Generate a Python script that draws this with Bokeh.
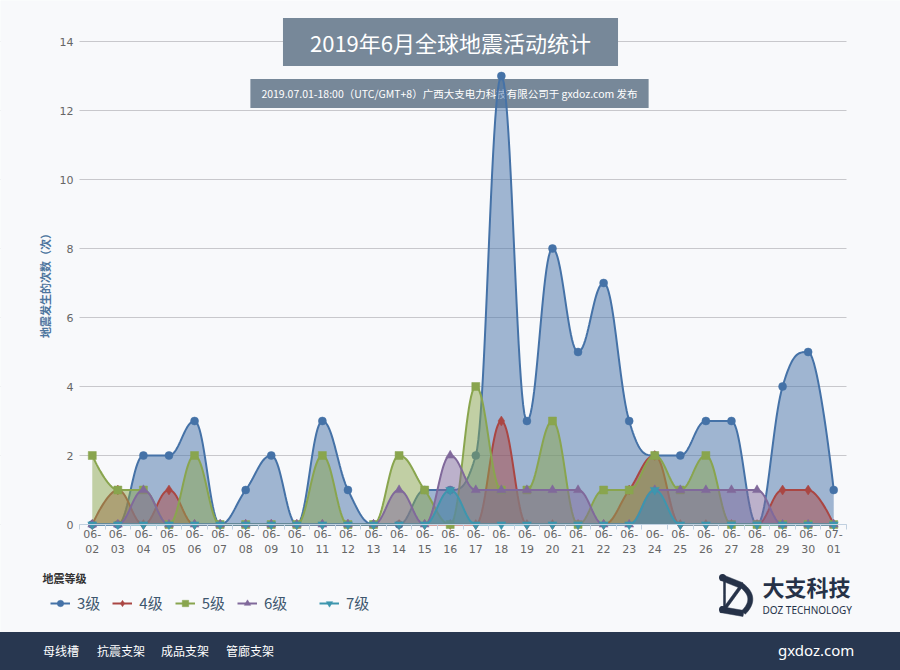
import numpy as np
from bokeh.plotting import figure
from bokeh.models import (Range1d, FixedTicker, Label, Legend, LegendItem, Div, BoxAnnotation)
from bokeh.layouts import column
from bokeh.embed import file_html
from bokeh.resources import INLINE

# ---------------- data ----------------
dates = ["06-02", "06-03", "06-04", "06-05", "06-06", "06-07", "06-08", "06-09", "06-10",
         "06-11", "06-12", "06-13", "06-14", "06-15", "06-16", "06-17", "06-18", "06-19",
         "06-20", "06-21", "06-22", "06-23", "06-24", "06-25", "06-26", "06-27", "06-28",
         "06-29", "06-30", "07-01"]
levels = ["3级", "4级", "5级", "6级", "7级"]
m3 = [0, 0, 2, 2, 3, 0, 1, 2, 0, 3, 1, 0, 0, 1, 1, 2, 13, 3, 8, 5, 7, 3, 2, 2, 3, 3, 0, 4, 5, 1]
m4 = [0, 1, 0, 1, 0, 0, 0, 0, 0, 0, 0, 0, 0, 0, 0, 0, 3, 0, 0, 0, 0, 1, 2, 0, 0, 0, 0, 1, 1, 0]
m5 = [2, 1, 1, 0, 2, 0, 0, 0, 0, 2, 0, 0, 2, 1, 0, 4, 1, 1, 3, 0, 1, 1, 2, 1, 2, 0, 0, 0, 0, 0]
m6 = [0, 0, 1, 0, 0, 0, 0, 0, 0, 0, 0, 0, 1, 0, 2, 1, 1, 1, 1, 1, 0, 0, 1, 1, 1, 1, 1, 0, 0, 0]
m7 = [0, 0, 0, 0, 0, 0, 0, 0, 0, 0, 0, 0, 0, 0, 1, 0, 0, 0, 0, 0, 0, 0, 1, 0, 0, 0, 0, 0, 0, 0]
series = [m3, m4, m5, m6, m7]
y_ticks = [0, 2, 4, 6, 8, 10, 12, 14]

title_text = "2019年6月全球地震活动统计"
subtitle_text = "2019.07.01-18:00（UTC/GMT+8）广西大支电力科技有限公司于 gxdoz.com 发布"
y_title = "地震发生的次数（次）"
legend_title = "地震等级"
footer_links = ["母线槽", "抗震支架", "成品支架", "管廊支架"]
footer_site = "gxdoz.com"

colors = ["#4572A7", "#AA4643", "#89A54E", "#80699B", "#3D96AE"]
markers = ["circle", "diamond", "square", "triangle", "inverted_triangle"]
msizes = [8, 10, 8, 9, 9]

BG = "#f8f9fb"
CJK = "Noto Sans CJK SC"
NAVY = "#263248"


def hc_spline(x, y, smoothing=1.5, steps=24):
    """Highcharts-style spline through the data points (bezier segments)."""
    x = np.asarray(x, float)
    y = np.asarray(y, float)
    n = len(x)
    lc = np.column_stack([x, y])
    rc = lc.copy()
    d = smoothing + 1
    for i in range(1, n - 1):
        px, py = x[i], y[i]
        lx, ly = x[i - 1], y[i - 1]
        nx, ny = x[i + 1], y[i + 1]
        lcx = (smoothing * px + lx) / d
        lcy = (smoothing * py + ly) / d
        rcx = (smoothing * px + nx) / d
        rcy = (smoothing * py + ny) / d
        if rcx != lcx:
            corr = (rcy - lcy) * (rcx - px) / (rcx - lcx) + py - rcy
            lcy += corr
            rcy += corr
        if lcy > max(ly, py):
            lcy = max(ly, py); rcy = 2 * py - lcy
        elif lcy < min(ly, py):
            lcy = min(ly, py); rcy = 2 * py - lcy
        if rcy > max(ny, py):
            rcy = max(ny, py); lcy = 2 * py - rcy
        elif rcy < min(ny, py):
            rcy = min(ny, py); lcy = 2 * py - rcy
        lc[i] = (lcx, lcy)
        rc[i] = (rcx, rcy)
    t = np.linspace(0, 1, steps)[1:]
    X = [x[0]]
    Y = [y[0]]
    for i in range(1, n):
        p0 = np.array([x[i - 1], y[i - 1]])
        c1 = rc[i - 1]
        c2 = lc[i]
        p3 = np.array([x[i], y[i]])
        tt = t[:, None]
        b = ((1 - tt) ** 3) * p0 + 3 * ((1 - tt) ** 2) * tt * c1 + 3 * (1 - tt) * tt ** 2 * c2 + tt ** 3 * p3
        X.extend(b[:, 0]); Y.extend(b[:, 1])
    return np.array(X), np.array(Y)


# ---------------- geometry (page pixels) ----------------
W, H = 900, 632                 # chart canvas; footer strip below
PL, PR, PB, PT = 79, 846, 524, 41  # plotting area: x edges, y of value 0 and value 14
n = len(dates)
ux = n / (PR - PL)              # x data units per pixel
uy = 14 / (PB - PT)             # y data units per pixel
x0 = -0.5 - PL * ux
x1 = n - 0.5 + (W - PR) * ux
y0 = -(H - PB) * uy
y1 = 14 + PT * uy


def dx(px):
    return x0 + px * ux


def dy(py):
    return y1 - py * uy


def sy(py):   # screen units (from bottom of canvas)
    return H - py


p = figure(width=W, height=H, x_range=Range1d(x0, x1), y_range=Range1d(y0, y1),
           output_backend="svg", toolbar_location=None,
           min_border=0, min_border_left=0, min_border_right=0, min_border_top=0, min_border_bottom=0,
           background_fill_color=BG, border_fill_color=BG, outline_line_color=None)

xs_idx = list(range(n))
xax = p.xaxis[0]
xax.fixed_location = 0
xax.bounds = (-0.5, n - 0.5)
xax.ticker = FixedTicker(ticks=xs_idx, minor_ticks=[i - 0.5 for i in range(n + 1)])
xax.major_label_overrides = {i: d.replace("-", "-\n") for i, d in enumerate(dates)}
xax.major_tick_out = 0
xax.major_tick_in = 0
xax.minor_tick_in = 0
xax.minor_tick_out = 5
xax.minor_tick_line_color = "#C0D0E0"
xax.axis_line_color = "#C0D0E0"
xax.major_label_standoff = -2
xax.major_label_text_font = "DejaVu Sans"
xax.major_label_text_font_size = "11px"
xax.major_label_text_color = "#666666"

yax = p.yaxis[0]
yax.fixed_location = -0.5
yax.bounds = (0, 14)
yax.ticker = FixedTicker(ticks=y_ticks, minor_ticks=[])
yax.axis_line_color = None
yax.major_tick_line_color = None
yax.major_tick_out = 0
yax.major_tick_in = 0
yax.minor_tick_line_color = None
yax.major_label_standoff = 6
yax.major_label_text_font = "DejaVu Sans"
yax.major_label_text_font_size = "11px"
yax.major_label_text_color = "#666666"
yax.axis_label = y_title
yax.axis_label_standoff = 4
yax.axis_label_text_font = CJK
yax.axis_label_text_font_size = "11px"
yax.axis_label_text_font_style = "bold"
yax.axis_label_text_color = "#4d759e"

p.xgrid.grid_line_color = None
p.ygrid.ticker = FixedTicker(ticks=y_ticks, minor_ticks=[])
p.ygrid.grid_line_color = "#c8c8cc"
p.ygrid.grid_line_width = 1
# keep the grid lines inside the plotting area
p.add_layout(BoxAnnotation(right=-0.5, fill_color=BG, fill_alpha=1, line_color=None, level="underlay"))
p.add_layout(BoxAnnotation(left=n - 0.5, fill_color=BG, fill_alpha=1, line_color=None, level="underlay"))

# subtitle (under the series)
p.add_layout(Label(x=449, y=sy(93), x_units="screen", y_units="screen", text=subtitle_text,
                   text_align="center", text_baseline="middle", text_color="white",
                   text_font=CJK, text_font_size="10.5px",
                   background_fill_color="#778899", padding=(11, 7), level="underlay"))

items = []
for lv, vals, c, mk, ms in zip(levels, series, colors, markers, msizes):
    X, Y = hc_spline(xs_idx, vals)
    p.patch(np.concatenate([X, [X[-1], X[0]]]), np.concatenate([Y, [0, 0]]),
            fill_color=c, fill_alpha=0.5, line_color=None)
    lr = p.line(X, Y, line_color=c, line_width=2)
    sr = p.scatter(xs_idx, vals, marker=mk, size=ms, fill_color=c, line_color=c, line_width=0.5)
    items.append(LegendItem(label=lv, renderers=[lr, sr]))

# title
p.add_layout(Label(x=450, y=sy(41.5), x_units="screen", y_units="screen", text=title_text,
                   text_align="center", text_baseline="middle", text_color="white",
                   text_font=CJK, text_font_size="22px",
                   background_fill_color="#778899", padding=(27, 8)))

# legend
leg_kw = dict(orientation="horizontal", border_line_color=None, background_fill_alpha=0,
              padding=0, margin=0, spacing=12, glyph_width=20, glyph_height=16, label_height=16,
              label_standoff=7, label_text_font=CJK, label_text_font_size="15px",
              label_text_color="#3E576F")
p.add_layout(Legend(items=items[:4], location=(50, sy(613)), **leg_kw))
p.add_layout(Legend(items=items[4:], location=(319, sy(613)), **leg_kw))
p.add_layout(Label(x=42, y=sy(577), x_units="screen", y_units="screen", text=legend_title,
                   text_baseline="middle", text_font=CJK, text_font_size="11px",
                   text_font_style="bold", text_color="#333333"))

# logo
p.add_layout(Label(x=762, y=sy(585), x_units="screen", y_units="screen", text="大支科技",
                   text_baseline="middle", text_font=CJK, text_font_size="22px",
                   text_font_style="bold", text_color=NAVY))
p.add_layout(Label(x=762, y=sy(609), x_units="screen", y_units="screen", text="DOZ TECHNOLOGY",
                   text_baseline="middle", text_font="Noto Sans", text_font_size="10px",
                   text_color=NAVY))


def ribbon(pts, w):
    pts = np.asarray(pts, float)
    d = np.gradient(pts, axis=0)
    nrm = np.column_stack([-d[:, 1], d[:, 0]])
    nrm /= np.linalg.norm(nrm, axis=1)[:, None]
    return np.vstack([pts + nrm * w / 2, (pts - nrm * w / 2)[::-1]])


def seg(a, b, k=5):
    return np.column_stack([np.linspace(a[0], b[0], k), np.linspace(a[1], b[1], k)])


tt = np.linspace(0, 1, 20)
arc = np.column_stack([(1 - tt) ** 2 * 740 + 2 * (1 - tt) * tt * 758 + tt ** 2 * 743,
                       (1 - tt) ** 2 * 584 + 2 * (1 - tt) * tt * 597 + tt ** 2 * 612])
strokes = [(seg((721, 577), (741, 585)), 6), (seg((720, 609), (743, 613)), 6),
           (seg((724, 581), (724, 607)), 2), (seg((725, 607), (741, 585)), 3), (arc, 5)]
polys = [ribbon(pt, w) for pt, w in strokes]
p.patches([list(dx(pl[:, 0])) for pl in polys], [list(dy(pl[:, 1])) for pl in polys],
          fill_color=NAVY, line_color=NAVY, line_width=0.5)
p.scatter([dx(722), dx(722)], [dy(577), dy(609)], size=7, marker="circle",
          fill_color=NAVY, line_color=None)

# ---------------- footer ----------------
links_html = "".join(
    f'<span style="position:absolute;left:{lx}px;top:10px;font-size:12px;">{t}</span>'
    for lx, t in zip([43, 97, 161, 226], footer_links))
footer = Div(width=W, height=38, margin=0, text=(
    '<div style="position:relative;width:900px;height:38px;background:#283750;color:#ffffff;'
    f'font-family:\'{CJK}\',sans-serif;line-height:18px;">'
    + links_html +
    f'<span style="position:absolute;left:778px;top:9px;font-size:15px;'
    f'font-family:\'Noto Sans\',sans-serif;">{footer_site}</span>'
    '</div>'))

layout = column(p, footer, spacing=0)
open("out.html", "w").write(file_html(layout, INLINE))
